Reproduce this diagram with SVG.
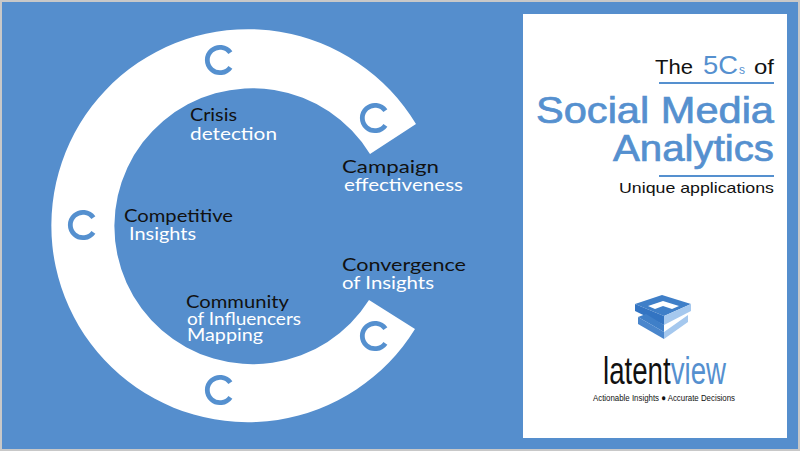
<svg xmlns="http://www.w3.org/2000/svg" width="800" height="451" viewBox="0 0 800 451">
<style>
text{font-family:"Liberation Sans",Arial,sans-serif}
.k{fill:#111}.w{fill:#fff}.b{fill:#5590cf}
.lbl{font-family:"Lato","Liberation Sans",sans-serif;font-size:18px}
.sm{font-size:16.5px}
.hd{font-size:37px;stroke:#5590cf;stroke-width:.7px}
</style>
<defs><path id="cee" d="M10.4 -7.3 A12.7 12.7 0 1 0 10.4 7.3" fill="none" stroke="#5590cf" stroke-width="4.8"/></defs>
<rect width="800" height="451" fill="#c8c8c8"/>
<rect x="2" y="2" width="796" height="447" fill="#558ecd"/>
<g id="ring"><path d="M416 124 A196.500 196.500 0 1 0 415 329 L369 300 A138 138 0 1 1 370 154 Z" fill="#fff"/></g>
<g id="c1"><use href="#cee" x="220" y="60"/></g>
<g id="c2"><use href="#cee" x="375" y="118"/></g>
<g id="c3"><use href="#cee" x="83" y="225"/></g>
<g id="c4"><use href="#cee" x="375" y="336"/></g>
<g id="c5"><use href="#cee" x="220" y="390"/></g>
<g id="crisis"><text class="lbl k" x="190" y="121" textLength="47" lengthAdjust="spacingAndGlyphs">Crisis</text><text class="lbl w" x="190" y="140" textLength="87" lengthAdjust="spacingAndGlyphs">detection</text></g>
<g id="campaign"><text class="lbl k" x="342" y="173" textLength="97" lengthAdjust="spacingAndGlyphs">Campaign</text><text class="lbl w" x="344" y="191" textLength="119" lengthAdjust="spacingAndGlyphs">effectiveness</text></g>
<g id="competitive"><text class="lbl k" x="124" y="222" textLength="109" lengthAdjust="spacingAndGlyphs">Competitive</text><text class="lbl w" x="129" y="240" textLength="67" lengthAdjust="spacingAndGlyphs">Insights</text></g>
<g id="convergence"><text class="lbl k" x="342" y="271" textLength="124" lengthAdjust="spacingAndGlyphs">Convergence</text><text class="lbl w" x="342" y="289" textLength="92" lengthAdjust="spacingAndGlyphs">of Insights</text></g>
<g id="community"><text class="lbl k" x="186" y="308" textLength="103" lengthAdjust="spacingAndGlyphs">Community</text><text class="lbl sm w" x="187" y="325" textLength="114" lengthAdjust="spacingAndGlyphs">of Influencers</text><text class="lbl sm w" x="187" y="341" textLength="76" lengthAdjust="spacingAndGlyphs">Mapping</text></g>
<g id="panel"><rect x="523" y="14" width="264" height="424" fill="#fff"/>
<text x="655" y="74" font-size="21" class="k" textLength="38" lengthAdjust="spacingAndGlyphs">The</text>
<text x="703" y="74" font-size="26" class="b" textLength="35" lengthAdjust="spacingAndGlyphs">5C</text>
<text x="739" y="74" font-size="12" class="b" textLength="6" lengthAdjust="spacingAndGlyphs">s</text>
<text x="754" y="74" font-size="21" class="k" textLength="20" lengthAdjust="spacingAndGlyphs">of</text>
<rect x="659" y="82" width="115" height="2" class="b"/>
<text x="536" y="123" class="b hd" textLength="238" lengthAdjust="spacingAndGlyphs">Social Media</text>
<text x="613" y="161" class="b hd" textLength="161" lengthAdjust="spacingAndGlyphs">Analytics</text>
<rect x="659" y="175" width="115" height="2" class="b"/>
<text x="619" y="193" font-size="14.500" class="k" textLength="155" lengthAdjust="spacingAndGlyphs">Unique applications</text></g>
<g id="logo"><path d="M635 304 L662 295 L691 304 L664 316Z" fill="#3f7fc8"/><path d="M648 306 L663 301 L679 306 L672 309 L663 306 L655 309Z" fill="#fff"/><path d="M635 304 L664 316 L664 325 L635 311Z" fill="#3374c2"/><path d="M664 316 L691 304 L691 311 L664 325Z" fill="#a5c8ee"/>
<path d="M638 317 L664 332 L664 339 L638 324Z" fill="#4a86cc"/><path d="M638 317 L646 314 L664 325 L664 332Z" fill="#3f7fc8"/><path d="M664 332 L688 315 L688 322 L664 339Z" fill="#a5c8ee"/>
<text x="603" y="384" font-size="39" class="k" textLength="123" lengthAdjust="spacingAndGlyphs">latent<tspan class="b">view</tspan></text>
<text x="593" y="401" font-size="9.500" class="k" textLength="142" lengthAdjust="spacingAndGlyphs">Actionable Insights ● Accurate Decisions</text></g>
</svg>
